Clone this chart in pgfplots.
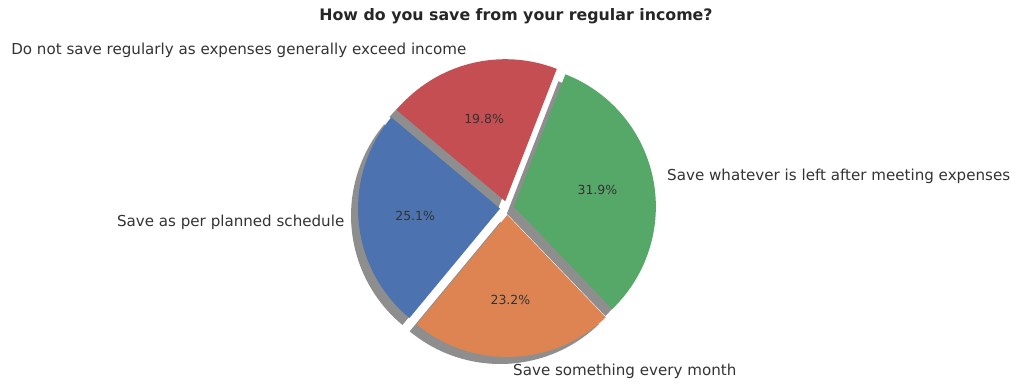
\documentclass[border=0pt]{standalone}
\usepackage{pgfplots}
\pgfplotsset{compat=1.18}
\usepackage{pgfplotstable}
\usepackage{fontspec}
\setmainfont{DejaVu Sans}
\definecolor{cblue}{HTML}{4C72B0}
\definecolor{corange}{HTML}{DD8452}
\definecolor{cgreen}{HTML}{55A868}
\definecolor{cred}{HTML}{C44E52}
\definecolor{shadowgray}{HTML}{8E8E8E}
\definecolor{txt}{HTML}{333333}
\pgfplotstableread[col sep=comma]{
label,value,color
Save as per planned schedule,25.1,cblue
Save something every month,23.2,corange
Save whatever is left after meeting expenses,31.9,cgreen
Do not save regularly as expenses generally exceed income,19.8,cred
}\piedata
\begin{document}
\begin{tikzpicture}
\begin{axis}[scale only axis, width=1011pt, height=383pt,
  xmin=0, xmax=1011, ymin=0, ymax=383, hide axis, clip=false]
\path (axis cs:0,0) rectangle (axis cs:1011,383);
\def\cx{507}\def\cy{175}\def\R{142}\def\E{7}\def\S{7}
% shadows
\pgfmathsetmacro{\angA}{140}
\pgfplotsforeachungrouped \i in {0,1,2,3}{%
  \pgfplotstablegetelem{\i}{value}\of\piedata
  \pgfmathsetmacro{\angB}{\angA+3.6*\pgfplotsretval}%
  \pgfmathsetmacro{\midang}{(\angA+\angB)/2}%
  \pgfmathsetmacro{\ox}{\cx+\E*cos(\midang)-\S}%
  \pgfmathsetmacro{\oy}{\cy+\E*sin(\midang)-\S}%
  \edef\temp{\noexpand\fill[shadowgray] (axis cs:\ox,\oy) -- ++(\angA:\R pt) arc[start angle=\angA, end angle=\angB, radius=\R pt] -- cycle;}%
  \temp
  \global\let\angA\angB
}
% wedges and texts
\pgfmathsetmacro{\angA}{140}
\pgfplotsforeachungrouped \i in {0,1,2,3}{%
  \pgfplotstablegetelem{\i}{value}\of\piedata
  \let\val\pgfplotsretval
  \pgfplotstablegetelem{\i}{color}\of\piedata
  \let\col\pgfplotsretval
  \pgfplotstablegetelem{\i}{label}\of\piedata
  \let\lab\pgfplotsretval
  \pgfmathsetmacro{\angB}{\angA+3.6*\val}%
  \pgfmathsetmacro{\midang}{(\angA+\angB)/2}%
  \pgfmathsetmacro{\ox}{\cx+\E*cos(\midang)}%
  \pgfmathsetmacro{\oy}{\cy+\E*sin(\midang)}%
  \pgfmathsetmacro{\px}{\cx+(\E+0.6*\R)*cos(\midang)}%
  \pgfmathsetmacro{\py}{\cy+(\E+0.6*\R)*sin(\midang)}%
  \pgfmathsetmacro{\lx}{\cx+(\E+1.1*\R)*cos(\midang)}%
  \pgfmathsetmacro{\ly}{\cy+(\E+1.1*\R)*sin(\midang)}%
  \pgfmathsetmacro{\cs}{cos(\midang)}%
  \ifdim\cs pt>0pt \def\anc{west}\else\def\anc{east}\fi
  \edef\temp{\noexpand\fill[\col] (axis cs:\ox,\oy) -- ++(\angA:\R pt) arc[start angle=\angA, end angle=\angB, radius=\R pt] -- cycle;
    \noexpand\node[text=txt, font=\noexpand\fontsize{12.5}{14}\noexpand\selectfont, inner sep=0pt] at (axis cs:\px,\py) {\val\noexpand\%};
    \noexpand\node[text=txt, font=\noexpand\fontsize{15.1}{17}\noexpand\selectfont, inner sep=0pt, anchor=\anc] at (axis cs:\lx,\ly) {\lab};}%
  \temp
  \global\let\angA\angB
}
\node[text=black!85, font=\fontsize{15.8}{18}\selectfont\bfseries, inner sep=0pt] at (axis cs:516,367) {How do you save from your regular income?};
\end{axis}
\end{tikzpicture}
\end{document}
